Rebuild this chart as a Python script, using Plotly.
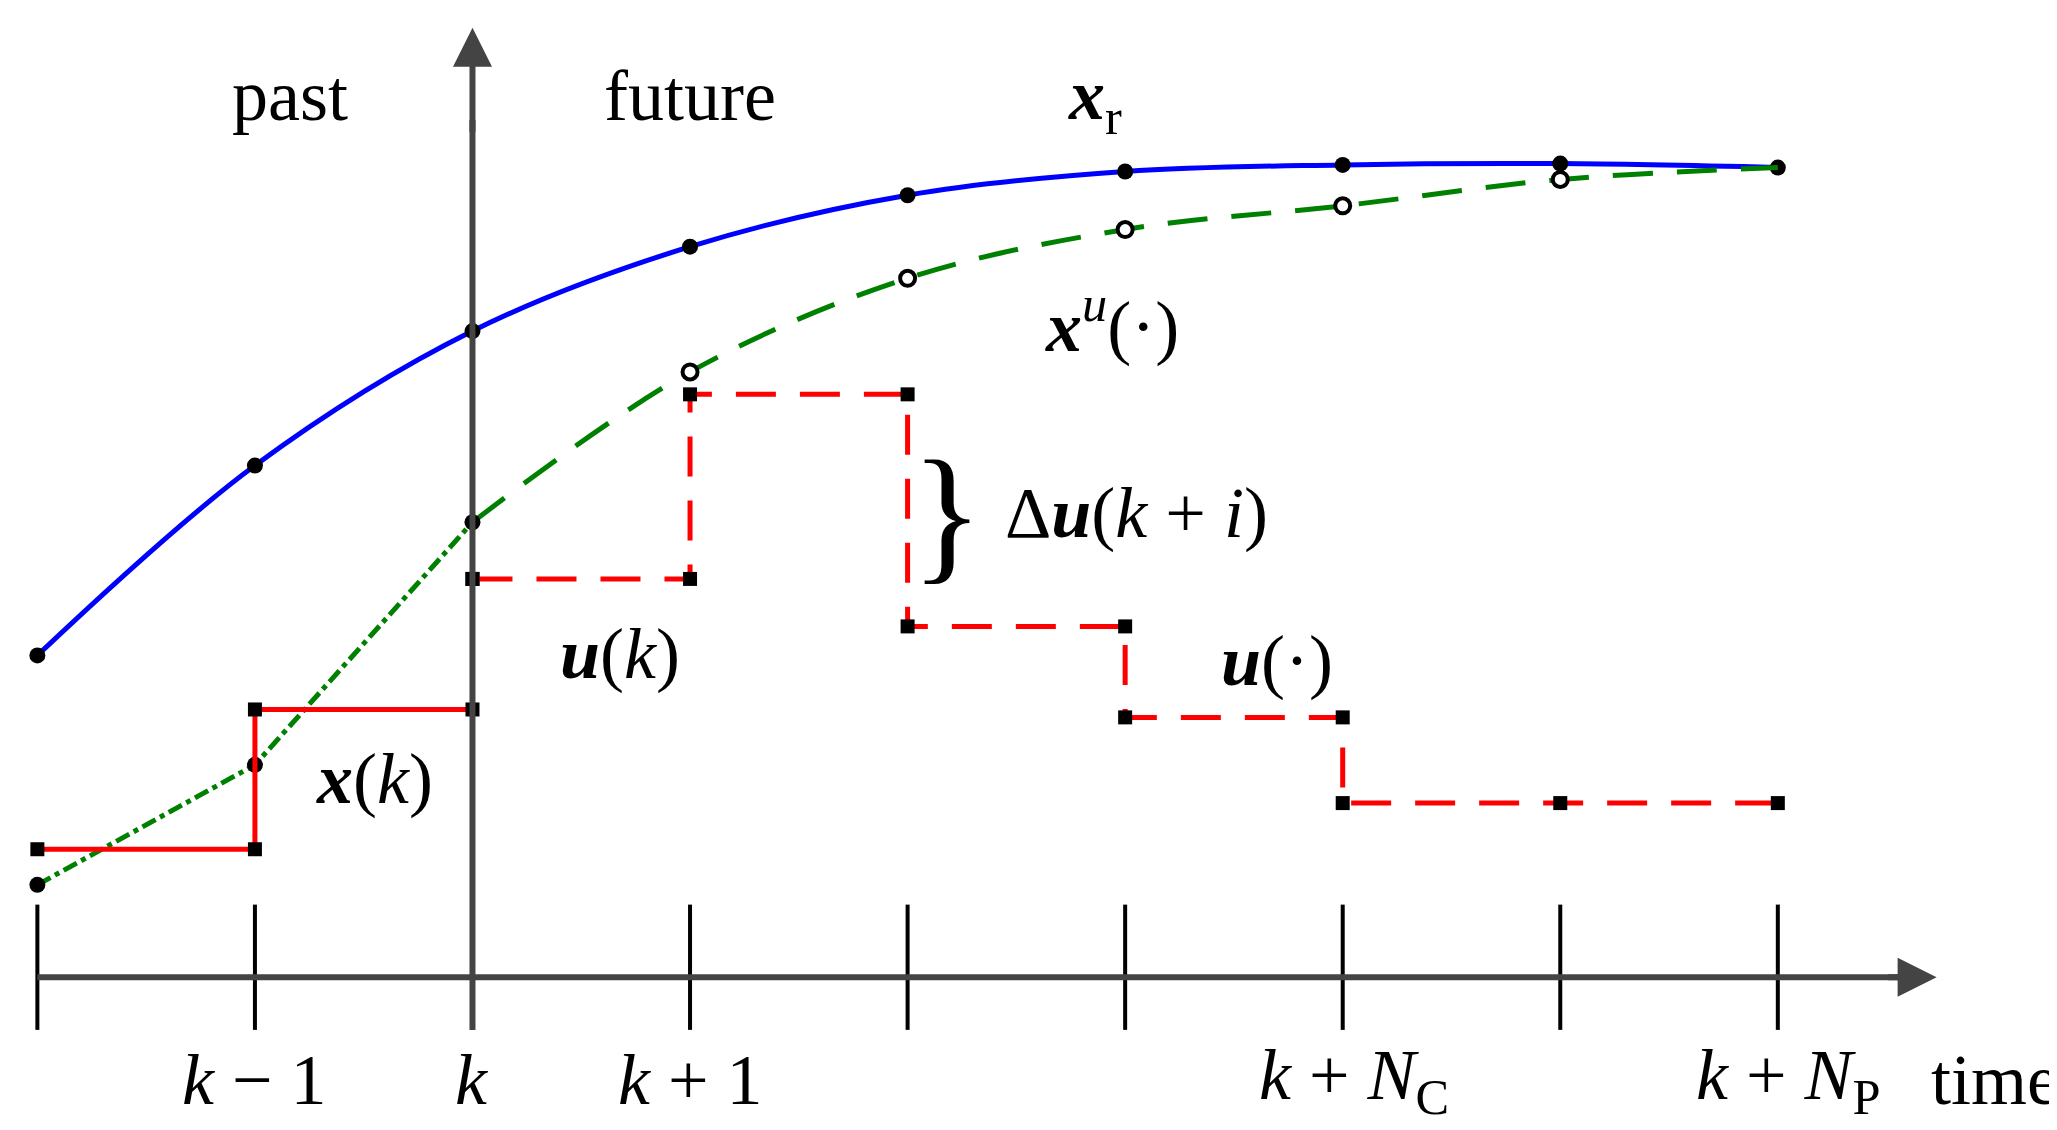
import plotly.graph_objects as go

steps = [-2, -1, 0, 1, 2, 3, 4, 5, 6]
tick_labels = ["", "<i>k</i> − 1", "<i>k</i>", "<i>k</i> + 1", "", "",
               "<i>k</i> + <i>N</i><sub>C</sub>", "", "<i>k</i> + <i>N</i><sub>P</sub>"]

x_ref = [244, 388, 490, 554, 593, 611, 616, 617, 614]
x_pred = [70, 161, 345, 459, 530, 567, 585, 605, 614]

u_past_x = [-2, -1, -1, 0, 0]
u_past_y = [97, 97, 203, 203, 302]
u_fut_x = [0, 1, 1, 2, 2, 3, 3, 4, 4, 5, 6]
u_fut_y = [302, 302, 442, 442, 266, 266, 197, 197, 132, 132, 132]

FONT = "Liberation Serif"
fig = go.Figure()

# tick marks and axes
for s in steps:
    fig.add_shape(type="line", x0=s, x1=s, y0=55, y1=-40, line=dict(color="black", width=4))
fig.add_shape(type="line", x0=-2, x1=6.6, y0=0, y1=0, line=dict(color="#444", width=6))
fig.add_shape(type="line", x0=0, x1=0, y0=-40, y1=650, line=dict(color="#444", width=6))
fig.add_annotation(x=6.73, y=0, ax=6.5, ay=0, axref="x", ayref="y", showarrow=True,
                   arrowhead=2, arrowsize=1.3, arrowwidth=6, arrowcolor="#444", text="")
fig.add_annotation(x=0, y=720, ax=0, ay=640, axref="x", ayref="y", showarrow=True,
                   arrowhead=2, arrowsize=1.3, arrowwidth=6, arrowcolor="#444", text="")

# reference trajectory
fig.add_trace(go.Scatter(x=steps, y=x_ref, mode="lines+markers", line=dict(color="blue", width=5, shape="spline"),
                         marker=dict(color="black", size=16)))
# predicted state
fig.add_trace(go.Scatter(x=steps[:3], y=x_pred[:3], mode="lines", line=dict(color="green", width=5, dash="dashdot")))
fig.add_trace(go.Scatter(x=steps[2:], y=x_pred[2:], mode="lines", line=dict(color="green", width=5, dash="40px,24px", shape="spline")))
fig.add_trace(go.Scatter(x=steps[:3], y=x_pred[:3], mode="markers", marker=dict(color="black", size=16)))
fig.add_trace(go.Scatter(x=steps[3:8], y=x_pred[3:8], mode="markers",
                         marker=dict(color="white", size=15, line=dict(color="black", width=4))))
# control input
fig.add_trace(go.Scatter(x=u_past_x, y=u_past_y, mode="lines+markers", line=dict(color="red", width=5),
                         marker=dict(color="black", size=14, symbol="square")))
fig.add_trace(go.Scatter(x=u_fut_x, y=u_fut_y, mode="lines+markers", line=dict(color="red", width=5, dash="40px,24px"),
                         marker=dict(color="black", size=14, symbol="square")))

def txt(x, y, t, size=72):
    fig.add_annotation(x=x, y=y, text=t, showarrow=False, font=dict(family=FONT, size=size, color="black"))

txt(-0.84, 668, "past")
txt(1.0, 668, "future")
txt(2.86, 665, "<b><i>x</i></b><sub>r</sub>")
txt(2.94, 497, "<b><i>x</i></b><sup><i>u</i></sup>(·)")
txt(3.05, 352, "Δ<b><i>u</i></b>(<i>k</i> + <i>i</i>)")
txt(2.18, 352, "}", size=150)
txt(0.68, 245, "<b><i>u</i></b>(<i>k</i>)")
txt(3.7, 240, "<b><i>u</i></b>(·)")
txt(-0.45, 150, "<b><i>x</i></b>(<i>k</i>)")
for s, lab in zip(steps, tick_labels):
    if lab:
        txt(s + (0.05 if s in (4, 6) else 0), -78, lab)
txt(7.0, -78, "time")

fig.update_layout(width=2057, height=1130, showlegend=False, plot_bgcolor="white", paper_bgcolor="white",
                  margin=dict(l=0, r=0, t=0, b=0),
                  xaxis=dict(range=[-2.135, 7.32], visible=False),
                  yaxis=dict(range=[-122, 735], visible=False))
fig.write_html("out.html")
